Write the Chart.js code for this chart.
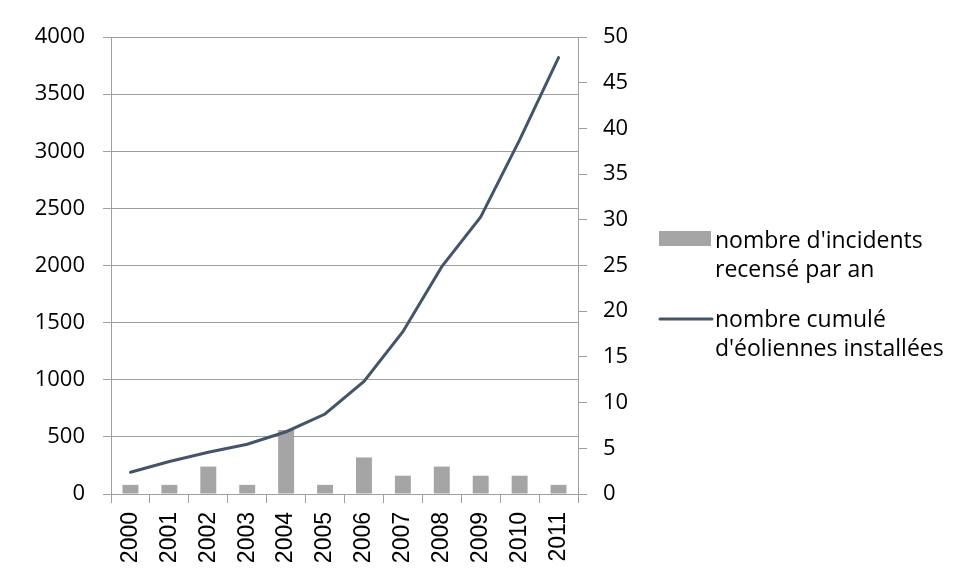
<!DOCTYPE html>
<html>
<head>
<meta charset="utf-8">
<script src="https://cdn.jsdelivr.net/npm/chart.js@4"></script>
<style>
  html, body { margin: 0; padding: 0; background: #ffffff; }
  #wrap { width: 965px; height: 580px; position: relative; }
</style>
</head>
<body>
<div id="wrap"><canvas id="c" width="965" height="580"></canvas></div>
<script>
const years = ['2000','2001','2002','2003','2004','2005','2006','2007','2008','2009','2010','2011'];
const incidents = [1, 1, 3, 1, 7, 1, 4, 2, 3, 2, 2, 1];
const cumulTurbines = [190, 285, 365, 435, 545, 700, 985, 1420, 1990, 2425, 3100, 3820];
const leftTicks = [0, 500, 1000, 1500, 2000, 2500, 3000, 3500, 4000];
const rightTicks = [0, 5, 10, 15, 20, 25, 30, 35, 40, 45, 50];
const incidentsLabel = ["nombre d'incidents", "recensé par an"];
const turbinesLabel = ["nombre cumulé", "d'éoliennes installées"];

const GRID = '#A0A0A0';
const BAR = '#A5A5A5';
const LINE = '#44546A';
const TXT = '#000000';

const legendPlugin = {
  id: 'sideLegend',
  afterDraw(chart) {
    const ctx = chart.ctx;
    ctx.save();
    ctx.font = '23px "Open Sans"';
    ctx.fillStyle = TXT;
    ctx.textBaseline = 'middle';
    ctx.textAlign = 'left';
    const items = [
      { ds: chart.data.datasets[1], y: 240 },
      { ds: chart.data.datasets[0], y: 319 }
    ];
    items.forEach(it => {
      const ds = it.ds;
      if (ds.type === 'bar') {
        ctx.fillStyle = ds.backgroundColor;
        ctx.fillRect(659, it.y - 9, 52, 15);
      } else {
        ctx.strokeStyle = ds.borderColor;
        ctx.lineWidth = 3;
        ctx.lineCap = 'round';
        ctx.beginPath();
        ctx.moveTo(660, it.y);
        ctx.lineTo(712, it.y);
        ctx.stroke();
      }
      ctx.fillStyle = TXT;
      ds.label.forEach((line, i) => {
        ctx.fillText(line, 715, it.y + 1 + i * 29);
      });
    });
    ctx.restore();
  }
};

new Chart(document.getElementById('c'), {
  data: {
    labels: years,
    datasets: [
      {
        type: 'line',
        label: turbinesLabel,
        data: cumulTurbines,
        yAxisID: 'y',
        borderColor: LINE,
        backgroundColor: LINE,
        borderWidth: 3,
        pointRadius: 0,
        tension: 0,
        borderCapStyle: 'round',
        order: 0
      },
      {
        type: 'bar',
        label: incidentsLabel,
        data: incidents,
        yAxisID: 'y2',
        backgroundColor: BAR,
        borderWidth: 0,
        categoryPercentage: 1,
        barPercentage: 0.41,
        order: 1
      }
    ]
  },
  options: {
    responsive: false,
    animation: false,
    devicePixelRatio: 1,
    layout: { padding: { top: 37, left: 0, right: 0, bottom: 0 } },
    plugins: {
      legend: { display: false },
      tooltip: { enabled: false },
      title: { display: false }
    },
    scales: {
      x: {
        type: 'category',
        offset: true,
        grid: {
          offset: true,
          drawOnChartArea: false,
          drawTicks: true,
          tickLength: 9,
          color: GRID,
          lineWidth: 1
        },
        border: { display: true, color: GRID, width: 1 },
        ticks: {
          minRotation: 90,
          maxRotation: 90,
          autoSkip: false,
          padding: 9,
          color: TXT,
          font: { family: '"Liberation Sans"', size: 23 }
        },
        afterFit(scale) { scale.height = 86; }
      },
      y: {
        position: 'left',
        min: 0,
        max: 4000,
        afterBuildTicks(scale) { scale.ticks = leftTicks.map(v => ({ value: v })); },
        grid: {
          drawOnChartArea: true,
          drawTicks: true,
          tickLength: 8,
          color: GRID,
          lineWidth: 1
        },
        border: { display: true, color: GRID, width: 1 },
        ticks: {
          padding: 18,
          color: TXT,
          font: { family: '"Open Sans"', size: 22 },
          callback: (v) => String(v)
        },
        afterFit(scale) { scale.width = 111; }
      },
      y2: {
        position: 'right',
        min: 0,
        max: 50,
        afterBuildTicks(scale) { scale.ticks = rightTicks.map(v => ({ value: v })); },
        grid: {
          drawOnChartArea: false,
          drawTicks: true,
          tickLength: 9,
          color: GRID,
          lineWidth: 1
        },
        border: { display: true, color: GRID, width: 1 },
        ticks: {
          padding: 16,
          color: TXT,
          font: { family: '"Open Sans"', size: 22 },
          callback: (v) => String(v)
        },
        afterFit(scale) { scale.width = 387; }
      }
    }
  },
  plugins: [legendPlugin]
});
</script>
</body>
</html>
